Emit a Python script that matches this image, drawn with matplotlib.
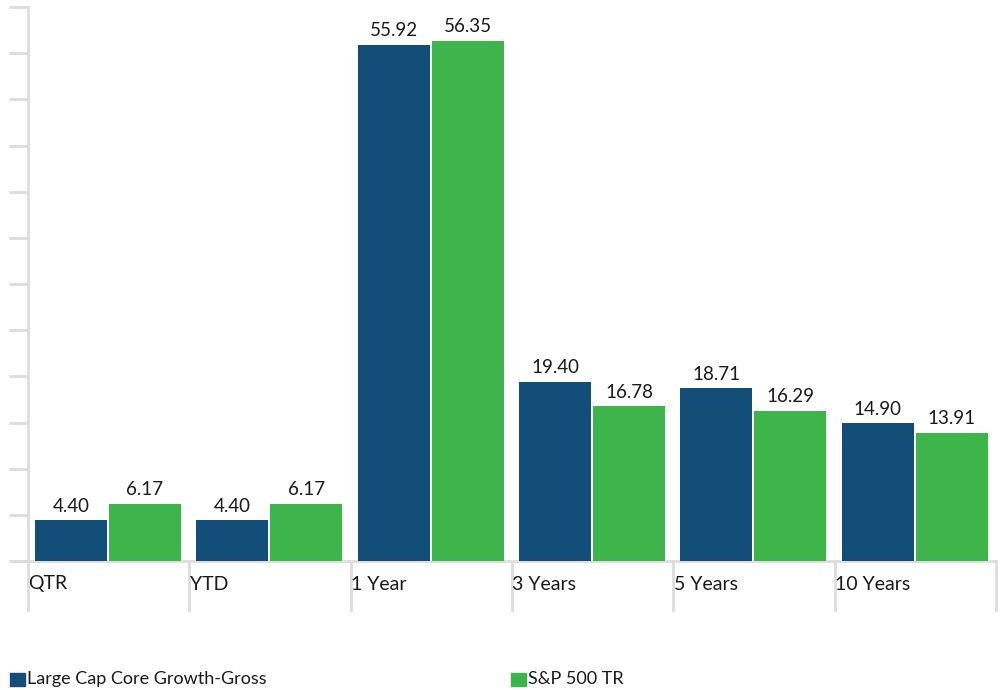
import matplotlib
matplotlib.use("Agg")
import matplotlib.pyplot as plt
from matplotlib.patches import Rectangle
from matplotlib.transforms import blended_transform_factory

categories = ["QTR", "YTD", "1 Year", "3 Years", "5 Years", "10 Years"]
series_names = ["Large Cap Core Growth-Gross", "S&P 500 TR"]
growth_gross = [4.40, 4.40, 55.92, 19.40, 18.71, 14.90]
sp500_tr = [6.17, 6.17, 56.35, 16.78, 16.29, 13.91]
colors = ["#124E78", "#3DB54A"]

plt.rcParams['font.family'] = ['Lato', 'DejaVu Sans']

W, H = 1001, 690
fig = plt.figure(figsize=(W / 100, H / 100), dpi=100)
left_px, right_px, bottom_px, top_px = 28, 996, 561, 7
ax = fig.add_axes([left_px / W, (H - bottom_px) / H,
                   (right_px - left_px) / W, (bottom_px - top_px) / H])

n = len(categories)
cat_px = (right_px - left_px) / n
bw = 72 / cat_px
b_off = 7 / cat_px
g_off = (7 + 72 + 2) / cat_px

for i in range(n):
    for val, off, col in [(growth_gross[i], b_off, colors[0]), (sp500_tr[i], g_off, colors[1])]:
        ax.bar(i + off, val, width=bw, align='edge', color=col, linewidth=0)
        ax.annotate(f"{val:.2f}", (i + off + bw / 2, val), xytext=(0, 4),
                    textcoords='offset points', ha='center', va='bottom',
                    fontsize=13.5, color='#1a1a1a')

ax.set_xlim(0, n)
ax.set_ylim(0, 60)
ax.set_yticks(range(0, 61, 5))
ax.set_yticklabels([])
ax.tick_params(axis='y', length=14, width=2, color='#dddddd', left=True)
ax.set_xticks([])
for s in ['top', 'right', 'bottom']:
    ax.spines[s].set_visible(False)
ax.spines['left'].set_color('#dddddd')
ax.spines['left'].set_linewidth(2)

# baseline
ax.axhline(0, color='#dddddd', lw=2, clip_on=False, zorder=0)
ax.plot([-14 / cat_px, 0], [0, 0], color='#dddddd', lw=2, clip_on=False)

trans = blended_transform_factory(ax.transData, ax.transAxes)
ext = -49 / (bottom_px - top_px)
for i in range(n + 1):
    ax.plot([i, i], [0, ext], color='#dddddd', lw=2, transform=trans, clip_on=False)
for i, c in enumerate(categories):
    ax.text(i + 0.5 / cat_px, -23 / (bottom_px - top_px), c, transform=trans,
            ha='left', va='center', fontsize=14, color='#1a1a1a')

# legend
for x0, name, col in [(10, series_names[0], colors[0]), (511, series_names[1], colors[1])]:
    fig.patches.append(Rectangle((x0 / W, (H - 686) / H), 15 / W, 13 / H,
                                 transform=fig.transFigure, color=col))
    fig.text((x0 + 17) / W, (H - 679) / H, name, ha='left', va='center',
             fontsize=13, color='#1a1a1a')

fig.savefig("out.png", dpi=100)
